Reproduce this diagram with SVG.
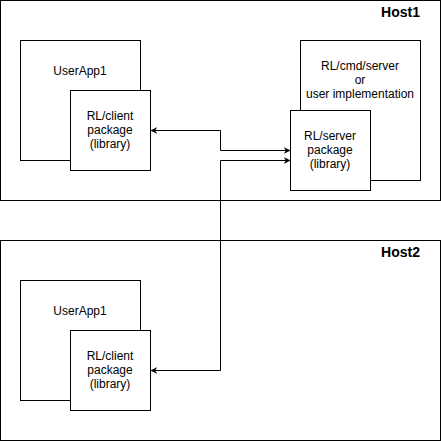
<svg xmlns="http://www.w3.org/2000/svg" width="441" height="441" viewBox="0 0 441 441">
<defs>
<style>
.box{fill:#fff;stroke:#000;stroke-width:1}
.t{font-family:"Liberation Sans",Arial,sans-serif;font-size:12px;fill:#000;text-anchor:middle;dominant-baseline:central}
.h{font-family:"Liberation Sans",Arial,sans-serif;font-size:14px;font-weight:bold;fill:#000;text-anchor:end;dominant-baseline:central}
.c{fill:none;stroke:#000;stroke-width:1}
</style>
<marker id="arr" viewBox="0 0 10 10" refX="9" refY="5" markerWidth="7" markerHeight="7" markerUnits="userSpaceOnUse" orient="auto-start-reverse">
<path d="M0,0 L10,5 L0,10 L3,5 Z" fill="#000"/>
</marker>
</defs>
<g id="host1">
<rect class="box" x="0.5" y="0.5" width="440" height="200"/>
<text class="h" x="420" y="12">Host1</text>
</g>
<g id="host2">
<rect class="box" x="0.5" y="240.5" width="440" height="200"/>
<text class="h" x="420" y="252">Host2</text>
</g>
<g id="userapp1-h1">
<rect class="box" x="20.5" y="40.5" width="120" height="120"/>
<text class="t" x="80" y="71">UserApp1</text>
</g>
<g id="client-h1">
<rect class="box" x="70.5" y="90.5" width="80" height="80"/>
<text class="t" x="110" y="116">RL/client</text>
<text class="t" x="110" y="130">package</text>
<text class="t" x="110" y="144">(library)</text>
</g>
<g id="cmdserver">
<rect class="box" x="300.5" y="40.5" width="120" height="140"/>
<text class="t" x="360" y="66">RL/cmd/server</text>
<text class="t" x="360" y="80">or</text>
<text class="t" x="360" y="94">user implementation</text>
</g>
<g id="server-lib">
<rect class="box" x="290.5" y="110.5" width="80" height="80"/>
<text class="t" x="330" y="136">RL/server</text>
<text class="t" x="330" y="150">package</text>
<text class="t" x="330" y="164">(library)</text>
</g>
<g id="userapp1-h2">
<rect class="box" x="20.5" y="280.5" width="120" height="120"/>
<text class="t" x="80" y="311">UserApp1</text>
</g>
<g id="client-h2">
<rect class="box" x="70.5" y="330.5" width="80" height="80"/>
<text class="t" x="110" y="356">RL/client</text>
<text class="t" x="110" y="370">package</text>
<text class="t" x="110" y="384">(library)</text>
</g>
<g id="connectors">
<path class="c" d="M151,130.5 L220.5,130.5 L220.5,150.5 L290,150.5" marker-start="url(#arr)" marker-end="url(#arr)"/>
<path class="c" d="M151,370.5 L220.5,370.5 L220.5,160.5 L290,160.5" marker-start="url(#arr)" marker-end="url(#arr)"/>
</g>
</svg>
